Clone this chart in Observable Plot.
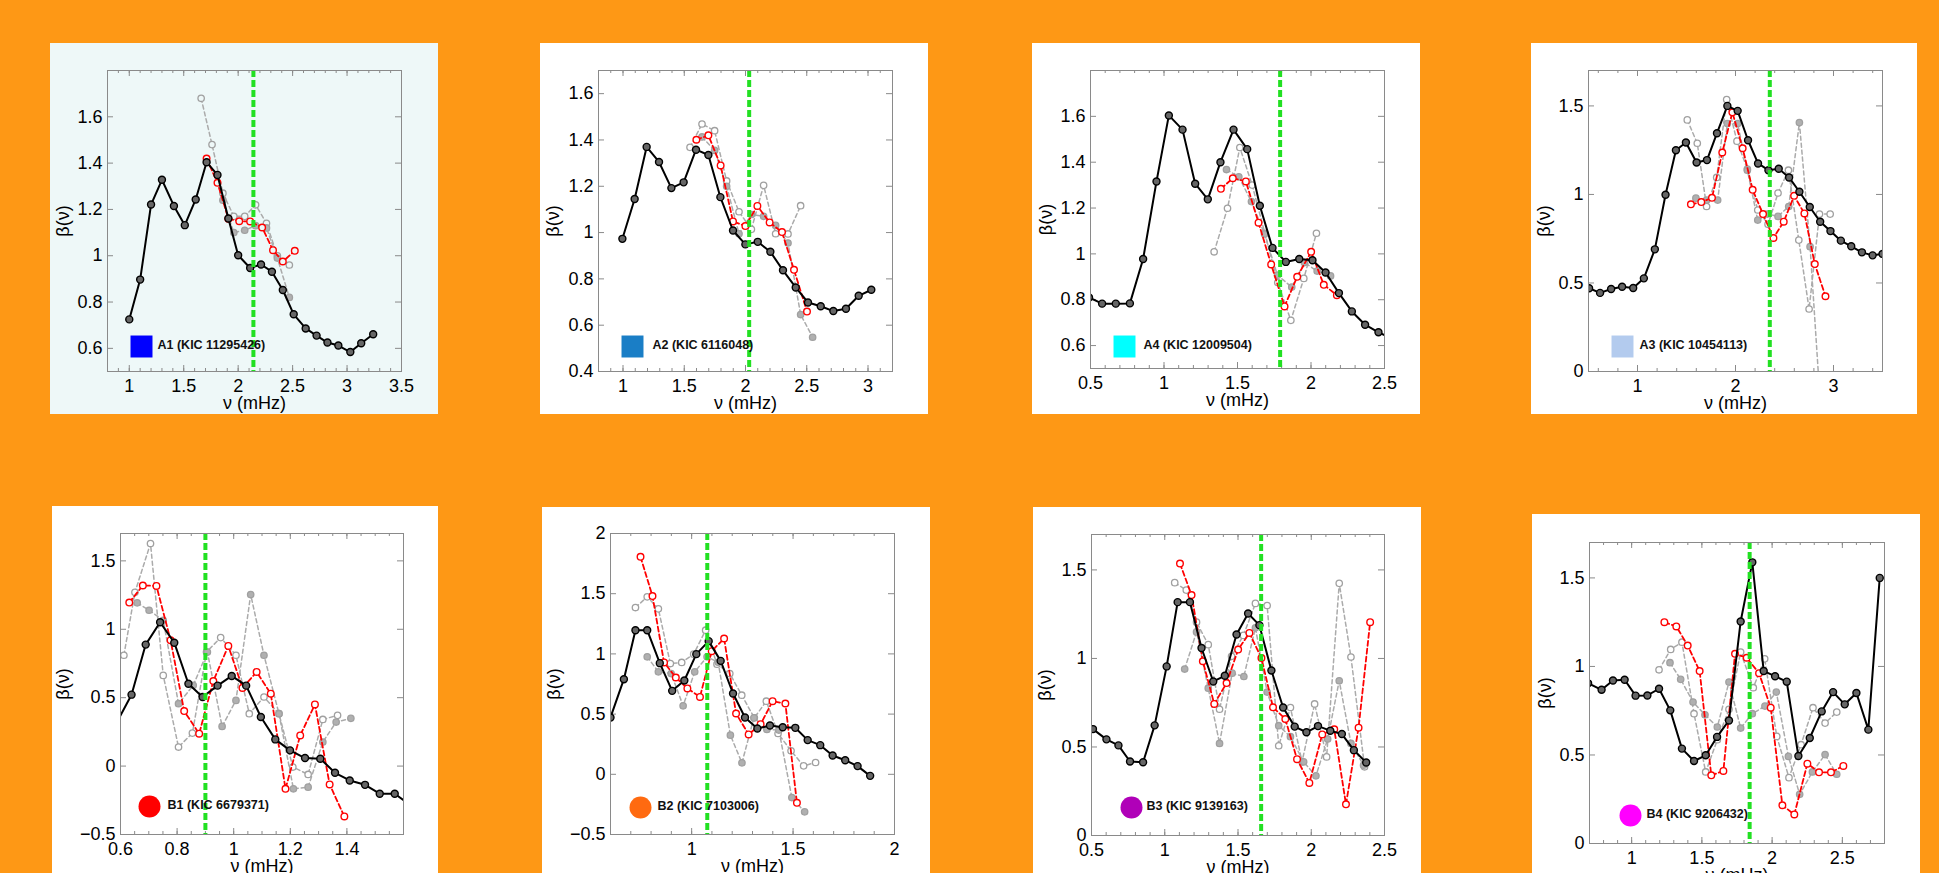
<!DOCTYPE html>
<html><head><meta charset="utf-8">
<script src="https://cdn.jsdelivr.net/npm/d3@7"></script>
<script src="https://cdn.jsdelivr.net/npm/@observablehq/plot@0.6"></script>
<style>
html,body{margin:0;padding:0;background:#FE9815;overflow:hidden;width:1939px;height:873px;}
#root{position:relative;width:1939px;height:873px;background:#FE9815;}
.panel{position:absolute;background:#fff;overflow:hidden;}
.panel svg{display:block;}
</style></head><body><div id="root"></div>
<script>
// ---------------- DATA ----------------
const panelNames = ["A1 (KIC 11295426)","A2 (KIC 6116048)","A4 (KIC 12009504)","A3 (KIC 10454113)",
                    "B1 (KIC 6679371)","B2 (KIC 7103006)","B3 (KIC 9139163)","B4 (KIC 9206432)"];
const numax = [2.14, 2.03, 1.79, 2.35, 0.90, 1.077, 1.658, 1.84];

const a1XTicks=[1,1.5,2,2.5,3,3.5], a1YTicks=[0.6,0.8,1,1.2,1.4,1.6];
const a2XTicks=[1,1.5,2,2.5,3],     a2YTicks=[0.4,0.6,0.8,1,1.2,1.4,1.6];
const a4XTicks=[0.5,1,1.5,2,2.5],   a4YTicks=[0.6,0.8,1,1.2,1.4,1.6];
const a3XTicks=[1,2,3],             a3YTicks=[0,0.5,1,1.5];
const b1XTicks=[0.6,0.8,1,1.2,1.4], b1YTicks=[-0.5,0,0.5,1,1.5];
const b2XTicks=[1,1.5,2],           b2YTicks=[-0.5,0,0.5,1,1.5,2];
const b3XTicks=[0.5,1,1.5,2,2.5],   b3YTicks=[0,0.5,1,1.5];
const b4XTicks=[1,1.5,2,2.5],       b4YTicks=[0,0.5,1,1.5];

const a1Black=[[1.00,0.725],[1.10,0.897],[1.20,1.221],[1.30,1.328],[1.41,1.215],[1.51,1.132],[1.61,1.243],[1.71,1.404],[1.81,1.349],[1.91,1.161],[2.00,1.002],[2.11,0.947],[2.21,0.962],[2.31,0.931],[2.41,0.852],[2.51,0.747],[2.62,0.686],[2.72,0.655],[2.82,0.625],[2.92,0.612],[3.03,0.584],[3.13,0.622],[3.24,0.661]];
const a1Red=[[1.71,1.42],[1.81,1.315],[1.91,1.16],[2.01,1.149],[2.11,1.148],[2.22,1.122],[2.32,1.024],[2.41,0.975],[2.52,1.021]];
const a1Gray1=[[1.66,1.68],[1.76,1.48],[1.86,1.27],[1.96,1.17],[2.06,1.17],[2.16,1.22],[2.26,1.14],[2.36,1.00],[2.47,0.96]];
const a1Gray2=[[1.86,1.24],[1.96,1.10],[2.06,1.11],[2.16,1.13],[2.26,1.12],[2.36,0.99],[2.47,0.82]];

const a2Black=[[0.995,0.973],[1.095,1.145],[1.193,1.37],[1.294,1.305],[1.395,1.192],[1.495,1.217],[1.596,1.358],[1.697,1.335],[1.795,1.153],[1.898,1.009],[1.999,0.949],[2.10,0.96],[2.203,0.917],[2.306,0.837],[2.41,0.763],[2.51,0.698],[2.614,0.682],[2.717,0.661],[2.82,0.671],[2.924,0.727],[3.027,0.753]];
const a2Red=[[1.599,1.401],[1.697,1.42],[1.797,1.29],[1.898,1.048],[1.999,1.028],[2.097,1.115],[2.197,1.044],[2.298,1.002],[2.396,0.839],[2.502,0.659]];
const a2Gray1=[[1.547,1.368],[1.645,1.469],[1.748,1.44],[1.846,1.223],[1.947,1.09],[2.048,1.014],[2.148,1.204],[2.246,0.995],[2.347,0.994],[2.45,1.116]];
const a2Gray2=[[1.645,1.413],[1.748,1.355],[1.846,1.2],[1.947,0.995],[2.048,1.078],[2.148,1.07],[2.246,1.031],[2.347,0.955],[2.45,0.646],[2.548,0.548]];

const a4Black=[[0.49,0.81],[0.579,0.783],[0.672,0.783],[0.768,0.784],[0.858,0.978],[0.949,1.316],[1.033,1.604],[1.126,1.542],[1.212,1.306],[1.298,1.238],[1.384,1.40],[1.473,1.542],[1.566,1.457],[1.652,1.21],[1.738,1.026],[1.829,0.965],[1.92,0.978],[2.01,0.972],[2.099,0.919],[2.19,0.829],[2.278,0.749],[2.368,0.691],[2.459,0.658],[2.55,0.63]];
const a4Red=[[1.387,1.284],[1.468,1.33],[1.557,1.316],[1.643,1.136],[1.729,0.954],[1.82,0.771],[1.906,0.90],[2.001,1.009],[2.087,0.865],[2.176,0.82]];
const a4Gray1=[[1.341,1.009],[1.432,1.199],[1.516,1.464],[1.60,1.30],[1.686,1.09],[1.774,0.875],[1.863,0.71],[1.951,0.893],[2.037,1.09]];
const a4Gray2=[[1.425,1.368],[1.509,1.336],[1.595,1.228],[1.684,1.087],[1.772,0.907],[1.869,0.855],[1.955,0.962],[2.042,0.925],[2.133,0.904]];

const a3Black=[[0.506,0.47],[0.618,0.444],[0.731,0.466],[0.843,0.479],[0.956,0.472],[1.065,0.526],[1.177,0.69],[1.286,0.998],[1.392,1.25],[1.494,1.293],[1.603,1.18],[1.709,1.194],[1.811,1.346],[1.917,1.50],[2.022,1.472],[2.128,1.306],[2.23,1.175],[2.336,1.137],[2.441,1.145],[2.547,1.096],[2.652,1.015],[2.758,0.929],[2.864,0.846],[2.969,0.793],[3.075,0.739],[3.181,0.707],[3.29,0.673],[3.399,0.656],[3.50,0.664]];
const a3Red=[[1.545,0.944],[1.651,0.957],[1.76,0.981],[1.865,1.237],[1.968,1.464],[2.073,1.261],[2.175,1.026],[2.281,0.889],[2.387,0.754],[2.492,0.846],[2.598,0.992],[2.703,0.893],[2.809,0.607],[2.918,0.425]];
const a3Gray1=[[1.508,1.421],[1.61,1.289],[1.705,0.932],[1.808,1.096],[1.91,1.536],[2.015,1.301],[2.121,1.143],[2.227,0.912],[2.332,0.831],[2.434,1.008],[2.54,1.137],[2.646,0.742],[2.751,0.353],[2.857,0.889],[2.966,0.889]];
const a3Gray2=[[1.596,0.979],[1.705,0.968],[1.818,0.968],[1.917,1.40],[2.022,1.40],[2.121,1.137],[2.227,0.855],[2.325,0.889],[2.434,0.876],[2.543,0.932],[2.652,1.406],[2.761,0.705],[2.85,-0.05]];

const b1Black=[[0.587,0.32],[0.639,0.522],[0.689,0.888],[0.740,1.051],[0.79,0.902],[0.84,0.602],[0.89,0.505],[0.943,0.588],[0.993,0.659],[1.044,0.588],[1.096,0.359],[1.147,0.195],[1.199,0.115],[1.252,0.059],[1.306,0.054],[1.358,-0.049],[1.41,-0.105],[1.464,-0.137],[1.516,-0.202],[1.569,-0.202],[1.62,-0.28]];
const b1Red=[[0.631,1.195],[0.679,1.32],[0.727,1.317],[0.777,0.92],[0.825,0.402],[0.878,0.237],[0.928,0.622],[0.981,0.878],[1.031,0.571],[1.081,0.688],[1.131,0.529],[1.183,-0.166],[1.235,0.224],[1.287,0.451],[1.339,-0.134],[1.391,-0.368]];
const b1Gray1=[[0.612,0.81],[0.651,1.27],[0.706,1.627],[0.751,0.663],[0.805,0.139],[0.854,0.241],[0.904,0.834],[0.954,0.939],[1.008,0.81],[1.055,0.383],[1.107,0.505],[1.16,0.383],[1.209,-0.007],[1.263,-0.061],[1.315,0.341],[1.367,0.371]];
const b1Gray2=[[0.659,1.193],[0.701,1.139],[0.751,1.066],[0.805,0.456],[0.857,0.59],[0.907,0.834],[0.959,0.29],[1.008,0.48],[1.06,1.254],[1.107,0.81],[1.16,0.383],[1.211,-0.166],[1.263,-0.154],[1.315,0.176],[1.362,0.322],[1.414,0.349]];

const b2Black=[[0.6,0.472],[0.666,0.79],[0.723,1.197],[0.781,1.197],[0.843,0.923],[0.904,0.693],[0.964,0.779],[1.023,0.998],[1.084,1.106],[1.143,0.942],[1.204,0.671],[1.263,0.472],[1.324,0.38],[1.386,0.405],[1.449,0.391],[1.511,0.386],[1.572,0.284],[1.634,0.242],[1.695,0.156],[1.757,0.117],[1.818,0.068],[1.88,-0.013]];
const b2Red=[[0.748,1.806],[0.807,1.48],[0.864,0.929],[0.922,0.804],[0.979,0.713],[1.041,0.643],[1.099,1.023],[1.16,1.128],[1.219,0.505],[1.281,0.331],[1.34,0.416],[1.399,0.607],[1.462,0.588],[1.519,-0.237]];
const b2Gray1=[[0.723,1.385],[0.781,1.474],[0.836,1.374],[0.895,0.92],[0.951,0.929],[1.01,0.998],[1.069,1.197],[1.125,0.915],[1.188,0.837],[1.247,0.657],[1.309,0.469],[1.368,0.607],[1.426,0.339],[1.49,0.195],[1.552,0.07],[1.611,0.098]];
const b2Gray2=[[0.781,0.976],[0.836,0.851],[0.899,0.837],[0.958,0.569],[1.015,0.851],[1.076,0.976],[1.131,0.93],[1.191,0.325],[1.248,0.095],[1.307,0.469],[1.371,0.372],[1.43,0.367],[1.494,-0.193],[1.557,-0.312]];

const b3Black=[[0.51,0.601],[0.602,0.543],[0.684,0.509],[0.763,0.418],[0.852,0.414],[0.931,0.622],[1.013,0.955],[1.088,1.318],[1.172,1.318],[1.251,1.059],[1.331,0.87],[1.41,0.902],[1.49,1.135],[1.569,1.254],[1.646,1.188],[1.728,0.932],[1.808,0.723],[1.887,0.615],[1.967,0.583],[2.046,0.618],[2.13,0.592],[2.209,0.573],[2.291,0.482],[2.375,0.412]];
const b3Red=[[1.104,1.536],[1.183,1.358],[1.26,0.984],[1.338,0.743],[1.422,0.861],[1.501,1.05],[1.578,1.144],[1.66,1.002],[1.739,0.724],[1.823,0.658],[1.903,0.431],[1.987,0.297],[2.075,0.571],[2.157,0.60],[2.237,0.176],[2.323,0.609],[2.402,1.205]];
const b3Gray1=[[1.068,1.428],[1.147,1.386],[1.217,1.205],[1.297,1.078],[1.374,0.713],[1.456,1.012],[1.537,1.13],[1.619,1.311],[1.699,1.299],[1.778,0.507],[1.858,0.723],[1.937,0.416],[2.023,0.743],[2.105,0.444],[2.191,1.424],[2.271,1.008],[2.364,0.388]];
const b3Gray2=[[1.136,0.94],[1.217,1.15],[1.297,0.832],[1.374,0.52],[1.46,0.917],[1.54,0.898],[1.619,1.173],[1.699,0.81],[1.778,0.62],[1.858,0.558],[1.948,0.416],[2.032,0.337],[2.112,0.545],[2.191,0.874],[2.271,0.52],[2.357,0.397]];

const b4Black=[[0.69,0.905],[0.786,0.868],[0.867,0.921],[0.95,0.925],[1.028,0.835],[1.112,0.836],[1.195,0.874],[1.275,0.752],[1.358,0.536],[1.444,0.466],[1.527,0.498],[1.608,0.602],[1.693,0.695],[1.776,1.254],[1.859,1.588],[1.94,0.974],[2.021,0.945],[2.104,0.914],[2.187,0.494],[2.268,0.596],[2.353,0.746],[2.434,0.855],[2.517,0.786],[2.60,0.85],[2.685,0.643],[2.766,1.50]];
const b4Red=[[1.233,1.25],[1.318,1.226],[1.399,1.118],[1.484,0.974],[1.567,0.385],[1.653,0.41],[1.736,1.071],[1.819,1.049],[1.907,0.962],[1.99,0.767],[2.073,0.216],[2.158,0.164],[2.251,0.451],[2.334,0.402],[2.419,0.402],[2.507,0.438]];
const b4Gray1=[[1.195,0.981],[1.278,1.096],[1.358,1.137],[1.444,0.733],[1.527,0.404],[1.61,0.586],[1.693,0.758],[1.776,1.081],[1.866,0.88],[1.947,1.043],[2.033,0.605],[2.12,0.372],[2.206,0.558],[2.291,0.767],[2.377,0.68],[2.46,0.742]];
const b4Gray2=[[1.273,1.021],[1.349,0.927],[1.437,0.799],[1.522,0.727],[1.61,0.658],[1.693,0.912],[1.776,0.652],[1.859,0.733],[1.949,0.776],[2.03,0.855],[2.116,0.492],[2.196,0.278],[2.287,0.404],[2.377,0.502],[2.46,0.391]];

// ---------------- LAYOUT / STYLE ----------------
const series = [
  [a1Black,a1Red,a1Gray1,a1Gray2],[a2Black,a2Red,a2Gray1,a2Gray2],[a4Black,a4Red,a4Gray1,a4Gray2],[a3Black,a3Red,a3Gray1,a3Gray2],
  [b1Black,b1Red,b1Gray1,b1Gray2],[b2Black,b2Red,b2Gray1,b2Gray2],[b3Black,b3Red,b3Gray1,b3Gray2],[b4Black,b4Red,b4Gray1,b4Gray2]
];
const ticks = [[a1XTicks,a1YTicks],[a2XTicks,a2YTicks],[a4XTicks,a4YTicks],[a3XTicks,a3YTicks],
               [b1XTicks,b1YTicks],[b2XTicks,b2YTicks],[b3XTicks,b3YTicks],[b4XTicks,b4YTicks]];
const layout = [
  {left:50,  top:43,  w:388, h:371, m:[27,37,43,57],   xd:[0.8,3.5], yd:[0.5,1.8], minor:0.1,  color:"#0000FF", sym:"square", lg:[34,-25,50], bg:"#EEF8F8"},
  {left:540, top:43,  w:388, h:371, m:[27,36,43,58],   xd:[0.8,3.2], yd:[0.4,1.7], minor:0.1,  color:"#1A7EC6", sym:"square", lg:[34,-25,54], bg:"#fff"},
  {left:1032,top:43,  w:388, h:371, m:[27,36,46,58],   xd:[0.5,2.5], yd:[0.5,1.8], minor:0.1,  color:"#00FFFF", sym:"square", lg:[34,-22,53], bg:"#fff"},
  {left:1531,top:43,  w:386, h:371, m:[27,35,43,57],   xd:[0.5,3.5], yd:[0,1.7],   minor:0.2,  color:"#B3CBEE", sym:"square", lg:[34,-25,51], bg:"#fff"},
  {left:52,  top:506, w:386, h:371, m:[27,35,43,68],   xd:[0.6,1.6], yd:[-0.5,1.7],minor:0.05, color:"#FF0000", sym:"circle", lg:[29,-28,47], bg:"#fff"},
  {left:542, top:507, w:388, h:371, m:[26,36,44,68],   xd:[0.6,2.0], yd:[-0.5,2.0],minor:0.1,  color:"#FF6A10", sym:"circle", lg:[30,-27,47], bg:"#fff"},
  {left:1033,top:507, w:388, h:371, m:[27,37,43,58],   xd:[0.5,2.5], yd:[0,1.7],   minor:0.1,  color:"#B000B8", sym:"circle", lg:[40,-28,55], bg:"#fff"},
  {left:1532,top:514, w:388, h:371, m:[28,36,42,57],   xd:[0.7,2.8], yd:[0,1.7],   minor:0.1,  color:"#FF00FF", sym:"circle", lg:[41,-28,57], bg:"#fff"}
];
const yLabelOffset = [51,52,51,51,64,63,53,51];
const fmt = d3.format("");
const frameColor = "#8a8a8a";
const FONT = "'Liberation Sans', Arial, Helvetica, sans-serif";

const root = document.getElementById("root");
layout.forEach((L, i) => {
  const [black, red, g1, g2] = series[i];
  const [xT, yT] = ticks[i];
  const [mt, mr, mb, ml] = L.m;
  const pw = L.w - ml - mr, ph = L.h - mt - mb;
  const minorT = d3.range(Math.ceil(L.xd[0]/L.minor - 1e-9), Math.floor(L.xd[1]/L.minor + 1e-9) + 1).map(k => +(k*L.minor).toFixed(4));
  const xy = {x: d => d[0], y: d => d[1]};
  const div = document.createElement("div");
  div.className = "panel";
  Object.assign(div.style, {left: L.left+"px", top: L.top+"px", width: L.w+"px", height: L.h+"px", background: L.bg});
  const chart = Plot.plot({
    width: L.w, height: L.h,
    marginTop: mt, marginRight: mr, marginBottom: mb, marginLeft: ml,
    style: {background: L.bg, fontFamily: FONT, fontSize: "18px", color: "#000"},
    x: {domain: L.xd},
    y: {domain: L.yd},
    marks: [
      // inward ticks
      Plot.tickX(minorT, {x: d => d, insetTop: ph - 3, stroke: frameColor}),
      Plot.tickX(minorT, {x: d => d, insetBottom: ph - 3, stroke: frameColor}),
      Plot.tickX(xT, {x: d => d, insetTop: ph - 6, stroke: frameColor}),
      Plot.tickX(xT, {x: d => d, insetBottom: ph - 6, stroke: frameColor}),
      Plot.tickY(yT, {y: d => d, insetRight: pw - 6, stroke: frameColor}),
      Plot.tickY(yT, {y: d => d, insetLeft: pw - 6, stroke: frameColor}),
      Plot.axisX({ticks: xT, tickFormat: fmt, tickSize: 0, tickPadding: 8, label: "ν (mHz)", labelAnchor: "center", labelArrow: "none", labelOffset: 37}),
      Plot.axisY({ticks: yT, tickFormat: fmt, tickSize: 0, tickPadding: 5, label: "β(ν)", labelAnchor: "center", labelArrow: "none", labelOffset: yLabelOffset[i]}),
      // gray series
      Plot.line(g1, {...xy, stroke: "#ababab", strokeWidth: 1.5, strokeDasharray: "4,3", clip: true}),
      Plot.line(g2, {...xy, stroke: "#ababab", strokeWidth: 1.5, strokeDasharray: "4,3", clip: true}),
      Plot.dot(g1, {...xy, r: 3.2, stroke: "#a0a0a0", strokeWidth: 1.3, fill: L.bg, clip: true}),
      Plot.dot(g2, {...xy, r: 3.2, stroke: "#a0a0a0", strokeWidth: 1.3, fill: "#b0b0b0", clip: true}),
      // red series
      Plot.line(red, {...xy, stroke: "#FF0000", strokeWidth: 1.8, strokeDasharray: "5,3", clip: true}),
      Plot.dot(red, {...xy, r: 3.3, stroke: "#FF0000", strokeWidth: 1.4, fill: L.bg, clip: true}),
      // black series
      Plot.line(black, {...xy, stroke: "#000", strokeWidth: 2, clip: true}),
      Plot.dot(black, {...xy, r: 3.5, stroke: "#000", strokeWidth: 1.4, fill: "#666", clip: true}),
      // numax marker
      Plot.ruleX([numax[i]], {x: d => d, stroke: "#22E022", strokeWidth: 4, strokeDasharray: "7,3"}),
      Plot.frame({stroke: frameColor}),
      // legend
      Plot.dot([panelNames[i]], {frameAnchor: "bottom-left", dx: L.lg[0], dy: L.lg[1], r: L.sym === "square" ? 12.4 : 11, symbol: L.sym, fill: L.color, stroke: "none"}),
      Plot.text([panelNames[i]], {text: d => d, frameAnchor: "bottom-left", dx: L.lg[2], dy: L.lg[1] + 2, textAnchor: "start", fontWeight: "bold", fontSize: 12.5, fill: "#111"})
    ]
  });
  div.appendChild(chart);
  root.appendChild(div);
});
</script>
</body></html>
